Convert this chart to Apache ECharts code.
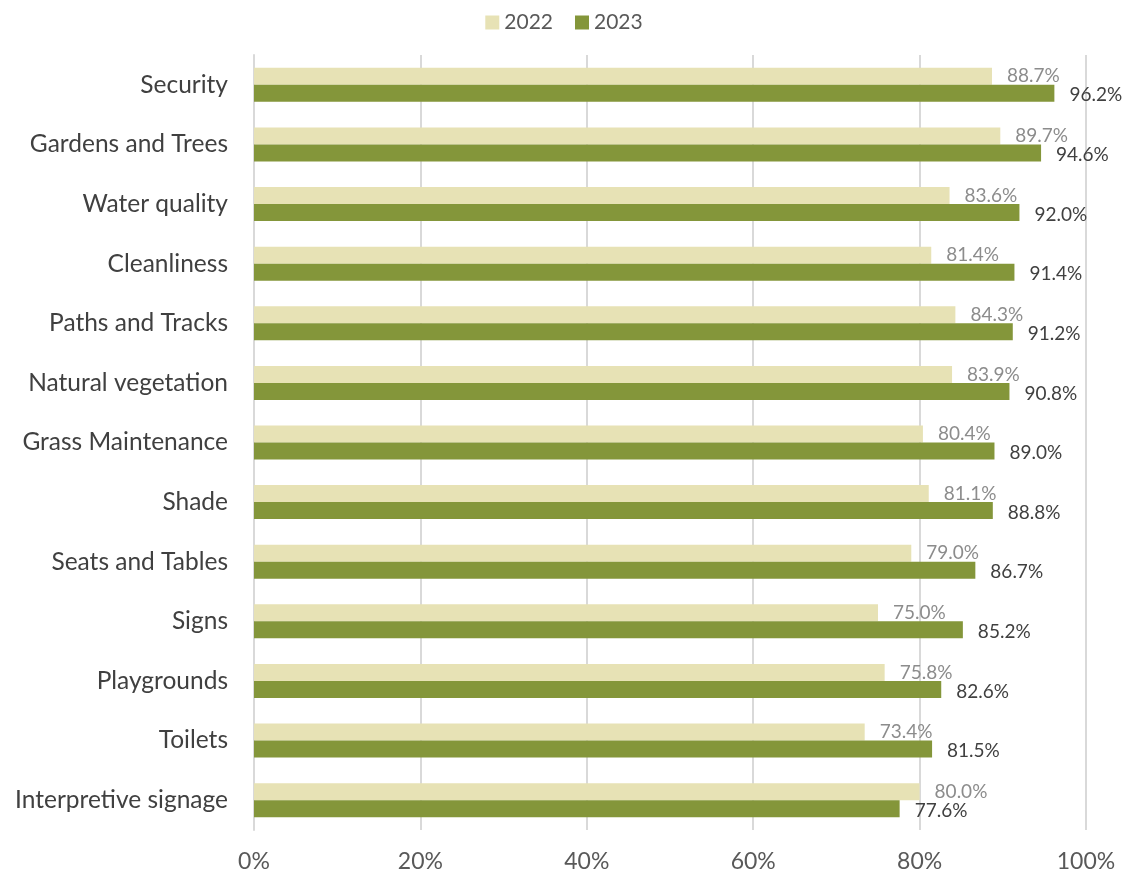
<!DOCTYPE html>
<html>
<head>
<meta charset="utf-8">
<script src="https://cdn.jsdelivr.net/npm/echarts@6/dist/echarts.min.js"></script>
<style>html,body{margin:0;padding:0;background:#fff;}#c{width:1128px;height:874px;}</style>
</head>
<body>
<div id="c"></div>
<script>
const categories = ['Security','Gardens and Trees','Water quality','Cleanliness','Paths and Tracks','Natural vegetation','Grass Maintenance','Shade','Seats and Tables','Signs','Playgrounds','Toilets','Interpretive signage'];
const values2022 = [88.7, 89.7, 83.6, 81.4, 84.3, 83.9, 80.4, 81.1, 79.0, 75.0, 75.8, 73.4, 80.0];
const values2023 = [96.2, 94.6, 92.0, 91.4, 91.2, 90.8, 89.0, 88.8, 86.7, 85.2, 82.6, 81.5, 77.6];
const seriesNames = ['2022', '2023'];
const xTicks = [0, 20, 40, 60, 80, 100];

const FONT = 'Lato';
const chart = echarts.init(document.getElementById('c'));
chart.setOption({
  animation: false,
  textStyle: { fontFamily: FONT },
  legend: {
    top: 7, left: 'center',
    itemWidth: 14, itemHeight: 14, itemGap: 22,
    icon: 'rect',
    textStyle: { fontSize: 21, color: '#595959', fontFamily: FONT },
    data: seriesNames
  },
  grid: { left: 254, right: 42, top: 55, bottom: 44 },
  xAxis: {
    type: 'value', min: xTicks[0], max: xTicks[xTicks.length - 1], interval: 20,
    axisLine: { show: false }, axisTick: { show: false },
    splitLine: { show: true, lineStyle: { color: '#D9D9D9', width: 2 } },
    axisLabel: { formatter: '{value}%', fontSize: 23, color: '#595959', margin: 20, fontFamily: FONT }
  },
  yAxis: {
    type: 'category', data: categories, inverse: true,
    axisLine: { show: true, lineStyle: { color: '#D9D9D9', width: 2 } },
    axisTick: { show: false },
    axisLabel: { fontSize: 24.5, color: '#404040', margin: 26, fontFamily: FONT }
  },
  series: [
    {
      name: seriesNames[0], type: 'bar', data: values2022,
      barWidth: 17, barGap: '0%',
      itemStyle: { color: '#E7E2B5' },
      label: { show: true, position: 'right', distance: 15, formatter: p => p.value.toFixed(1) + '%', fontSize: 19, color: '#8C8C8C', fontFamily: FONT }
    },
    {
      name: seriesNames[1], type: 'bar', data: values2023,
      barWidth: 17, barGap: '0%',
      itemStyle: { color: '#84963A' },
      label: { show: true, position: 'right', distance: 15, offset: [0, 2], formatter: p => p.value.toFixed(1) + '%', fontSize: 19, color: '#404040', fontFamily: FONT }
    }
  ]
});
</script>
</body>
</html>
